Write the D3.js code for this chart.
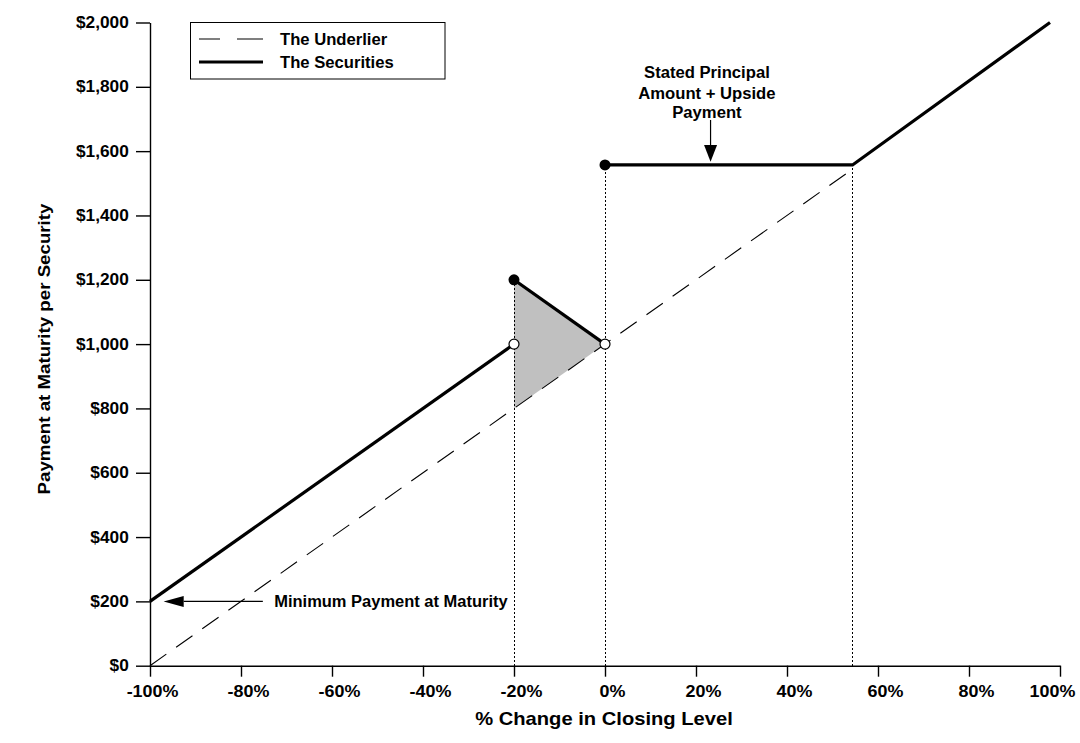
<!DOCTYPE html>
<html>
<head>
<meta charset="utf-8">
<script src="https://cdn.jsdelivr.net/npm/d3@7"></script>
<style>
  html, body { margin: 0; padding: 0; background: #fff; }
  svg { display: block; }
  text { font-family: "Liberation Sans", Arial, sans-serif; font-weight: bold; fill: #000; }
</style>
</head>
<body>
<svg id="chart" width="1080" height="743"></svg>
<script>
// ---------- data ----------
const xTicks = [-100, -80, -60, -40, -20, 0, 20, 40, 60, 80, 100];
const yTicks = [0, 200, 400, 600, 800, 1000, 1200, 1400, 1600, 1800, 2000];

// The Underlier (dashed) - visible up to where the securities line takes over
const underlierX = [-100, 54.4];
const underlierY = [0, 1544];

// The Securities (solid), three pieces
const secDownX = [-100, -20];
const secDownY = [200, 1000];
const secBufferX = [-20, 0];
const secBufferY = [1200, 1000];
const secUpX = [0, 54.4, 97.8];
const secUpY = [1557, 1557, 2000];

// shaded area between securities and underlier in the buffer zone
const shadeX = [-20, 0, -20];
const shadeY = [1200, 1000, 800];

// markers
const filledDotX = [-20, 0];
const filledDotY = [1200, 1557];
const openDotX = [-20, 0];
const openDotY = [1000, 1000];

// dotted drop lines
const dropX = [-20, 0, 54.4];
const dropTopY = [1200, 1557, 1557];

// legend
const legendLabels = ["The Underlier", "The Securities"];

// annotations (data units)
const minPayText = "Minimum Payment at Maturity";
const minPayLevel = 200;
const minPayArrowX = [-75.2, -92.6, -97.0]; // tail, head base, tip
const minPayTextX = -72.7;

const statedLines = ["Stated Principal", "Amount + Upside", "Payment"];
const statedTextX = 22.4;
const statedLineY = [1847, 1782, 1723];
const statedArrowX = 23.2;
const statedArrowY = [1697, 1619, 1567]; // tail, head base, tip

// ---------- chart ----------
const SX = 1.12;   // horizontal stretch of tick labels / titles
const SXA = 1.04;  // horizontal stretch of legend / annotation text
const svg = d3.select("#chart");
const x = d3.scaleLinear().domain([-100, 100]).range([150, 1060]);
const y = d3.scaleLinear().domain([0, 2000]).range([665.7, 22.5]);

const zip = (xs, ys) => xs.map((v, i) => [v, ys[i]]);
const line = d3.line().x(d => x(d[0])).y(d => y(d[1]));

function addText(g, tx, ty, str, size, anchor, sx, rot) {
  return g.append("text")
    .attr("transform", `translate(${tx},${ty})` + (rot ? ` rotate(${rot})` : "") + ` scale(${sx},1)`)
    .attr("text-anchor", anchor)
    .style("font-size", size + "px")
    .text(str);
}

// shaded triangle
svg.append("path")
  .attr("d", line(zip(shadeX, shadeY)) + "Z")
  .attr("fill", "#c0c0c0")
  .attr("stroke", "none");

// dotted drop lines
svg.selectAll(".drop").data(dropX).join("line")
  .attr("class", "drop")
  .attr("x1", d => x(d)).attr("x2", d => x(d))
  .attr("y1", y(0)).attr("y2", (d, i) => y(dropTopY[i]))
  .attr("stroke", "#000").attr("stroke-width", 1)
  .attr("stroke-dasharray", "2,2")
  .attr("shape-rendering", "crispEdges");

// underlier
svg.append("path")
  .attr("d", line(zip(underlierX, underlierY)))
  .attr("fill", "none").attr("stroke", "#000")
  .attr("stroke-width", 1.1)
  .attr("stroke-dasharray", "20,12");

// axes
const yAxis = d3.axisLeft(y).tickValues(yTicks).tickSize(14).tickSizeOuter(0).tickPadding(9)
  .tickFormat(d => "$" + d3.format(",")(d));
const xAxis = d3.axisBottom(x).tickValues(xTicks).tickSize(11).tickSizeOuter(0).tickPadding(9)
  .tickFormat(d => (d < 0 ? "-" + Math.abs(d) : d) + "%");

const gy = svg.append("g").attr("transform", `translate(${x(-100)},0)`).call(yAxis);
const gx = svg.append("g").attr("transform", `translate(0,${y(0)})`).call(xAxis);
[gx, gy].forEach(g => {
  g.select(".domain").attr("stroke", "#000").attr("stroke-width", 1.4);
  g.selectAll(".tick line").attr("stroke", "#000").attr("stroke-width", 1.4);
  g.selectAll(".tick text")
    .attr("fill", "#000")
    .style("font-family", '"Liberation Sans", Arial, sans-serif')
    .style("font-weight", "bold")
    .style("font-size", "16px");
});
gy.selectAll(".tick text").attr("x", -22 / SX).attr("transform", `scale(${SX - 0.04},1)`);
gx.selectAll(".tick text")
  .attr("x", d => (d === 100 ? -8 : d === -100 ? 2 : 7) / SX)
  .attr("transform", `scale(${SX},1)`);

// securities
[zip(secDownX, secDownY), zip(secBufferX, secBufferY), zip(secUpX, secUpY)].forEach(seg => {
  svg.append("path")
    .attr("d", line(seg))
    .attr("fill", "none").attr("stroke", "#000")
    .attr("stroke-width", 3.2)
    .attr("stroke-linejoin", "miter");
});

// dots
svg.selectAll(".open").data(zip(openDotX, openDotY)).join("circle")
  .attr("class", "open")
  .attr("cx", d => x(d[0])).attr("cy", d => y(d[1])).attr("r", 5)
  .attr("fill", "#fff").attr("stroke", "#000").attr("stroke-width", 1.2);
svg.selectAll(".filled").data(zip(filledDotX, filledDotY)).join("circle")
  .attr("class", "filled")
  .attr("cx", d => x(d[0])).attr("cy", d => y(d[1])).attr("r", 5.5)
  .attr("fill", "#000");

// axis titles
addText(svg, 604, 725, "% Change in Closing Level", 18, "middle", SX);
addText(svg, 50, 349, "Payment at Maturity per Security", 17, "middle", 1.1, -90);

// legend
const lg = svg.append("g");
lg.append("rect").attr("x", 190.5).attr("y", 22.5).attr("width", 254.5).attr("height", 56.5)
  .attr("fill", "#fff").attr("stroke", "#000").attr("stroke-width", 1);
lg.append("line").attr("x1", 199).attr("x2", 263).attr("y1", 39).attr("y2", 39)
  .attr("stroke", "#000").attr("stroke-width", 1.1).attr("stroke-dasharray", "21,17,26");
lg.append("line").attr("x1", 199).attr("x2", 263).attr("y1", 62).attr("y2", 62)
  .attr("stroke", "#000").attr("stroke-width", 3.2);
legendLabels.forEach((t, i) => addText(lg, 280, 45 + i * 23, t, 16, "start", SXA));

// min payment annotation
const yMin = y(minPayLevel);
svg.append("line")
  .attr("x1", x(minPayArrowX[0])).attr("x2", x(minPayArrowX[1]))
  .attr("y1", yMin).attr("y2", yMin)
  .attr("stroke", "#000").attr("stroke-width", 1.2);
svg.append("path")
  .attr("d", `M${x(minPayArrowX[2])},${yMin} L${x(minPayArrowX[1])},${yMin - 5.5} L${x(minPayArrowX[1])},${yMin + 5.5} Z`)
  .attr("fill", "#000");
addText(svg, x(minPayTextX), yMin + 6, minPayText, 16, "start", SXA - 0.01);

// stated principal annotation
statedLines.forEach((t, i) => addText(svg, x(statedTextX), y(statedLineY[i]) + 6, t, 16, "middle", SXA));
const ax = x(statedArrowX);
svg.append("line")
  .attr("x1", ax).attr("x2", ax)
  .attr("y1", y(statedArrowY[0])).attr("y2", y(statedArrowY[1]))
  .attr("stroke", "#000").attr("stroke-width", 1.2);
svg.append("path")
  .attr("d", `M${ax},${y(statedArrowY[2])} L${ax - 6.5},${y(statedArrowY[1])} L${ax + 6.5},${y(statedArrowY[1])} Z`)
  .attr("fill", "#000");
</script>
</body>
</html>
